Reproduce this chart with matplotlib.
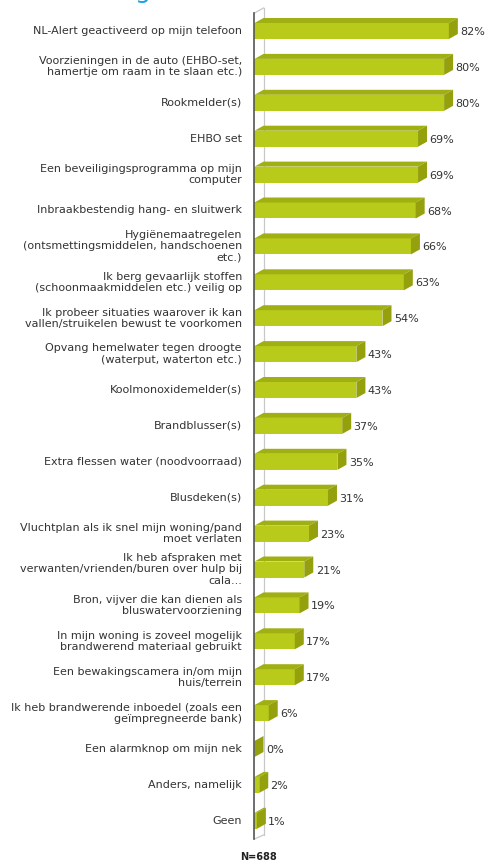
import matplotlib
matplotlib.use("Agg")
import matplotlib.pyplot as plt
from matplotlib.patches import Polygon

categories = [
    "NL-Alert geactiveerd op mijn telefoon",
    "Voorzieningen in de auto (EHBO-set,\nhamertje om raam in te slaan etc.)",
    "Rookmelder(s)",
    "EHBO set",
    "Een beveiligingsprogramma op mijn\ncomputer",
    "Inbraakbestendig hang- en sluitwerk",
    "Hygiënemaatregelen\n(ontsmettingsmiddelen, handschoenen\netc.)",
    "Ik berg gevaarlijk stoffen\n(schoonmaakmiddelen etc.) veilig op",
    "Ik probeer situaties waarover ik kan\nvallen/struikelen bewust te voorkomen",
    "Opvang hemelwater tegen droogte\n(waterput, waterton etc.)",
    "Koolmonoxidemelder(s)",
    "Brandblusser(s)",
    "Extra flessen water (noodvoorraad)",
    "Blusdeken(s)",
    "Vluchtplan als ik snel mijn woning/pand\nmoet verlaten",
    "Ik heb afspraken met\nverwanten/vrienden/buren over hulp bij\ncala...",
    "Bron, vijver die kan dienen als\nbluswatervoorziening",
    "In mijn woning is zoveel mogelijk\nbrandwerend materiaal gebruikt",
    "Een bewakingscamera in/om mijn\nhuis/terrein",
    "Ik heb brandwerende inboedel (zoals een\ngeïmpregneerde bank)",
    "Een alarmknop om mijn nek",
    "Anders, namelijk",
    "Geen",
]
values = [82, 80, 80, 69, 69, 68, 66, 63, 54, 43, 43, 37, 35, 31, 23, 21, 19, 17, 17, 6, 0, 2, 1]
value_labels = [f"{v}%" for v in values]
footnote = "N=688"

W, H = 487, 861
fig = plt.figure(figsize=(W / 100, H / 100), dpi=100)
fig.patch.set_facecolor("white")

# axes geometry in pixels
x0_px, x1_px = 254.5, 487
y_top_px, y_bot_px = 8, 840
px_per_unit = 2.37
row0_px, row_px = 31, 35.9

ax = fig.add_axes([x0_px / W, (H - y_bot_px) / H, (x1_px - x0_px) / W, (y_bot_px - y_top_px) / H])
ax.set_xlim(0, (x1_px - x0_px) / px_per_unit)
ax.set_ylim((y_bot_px - row0_px) / row_px, (y_top_px - row0_px) / row_px)
ax.axis("off")

front = "#B8CB1A"
top_c = "#A0B012"
side_c = "#95A10C"
bar_h = 16 / row_px
dx = 9 / px_per_unit
dy = 5 / row_px

for i, v in enumerate(values):
    ax.barh(i, v, height=bar_h, color=front, edgecolor="none", zorder=3)
    yt = i - bar_h / 2
    yb = i + bar_h / 2
    ax.add_patch(Polygon([(0, yt), (v, yt), (v + dx, yt - dy), (dx, yt - dy)],
                         closed=True, facecolor=top_c, edgecolor="none", zorder=3))
    ax.add_patch(Polygon([(v, yt), (v + dx, yt - dy), (v + dx, yb - dy), (v, yb)],
                         closed=True, facecolor=side_c, edgecolor="none", zorder=3))
    ax.text(v + dx + 1.0, i + 0.03, value_labels[i], ha="left", va="center",
            fontsize=8, color="#333333", family="DejaVu Sans", zorder=4)
    ax.text(-12.5 / px_per_unit, i, categories[i], ha="right", va="center",
            fontsize=8, color="#333333", family="DejaVu Sans", linespacing=1.15,
            multialignment="right", clip_on=False)

# side wall
def py(p):
    return (p - row0_px) / row_px

ax.plot([0, 0], [py(13), py(839)], color="#555555", lw=1.2, clip_on=False, zorder=5)
ax.plot([dx, dx], [py(8), py(835)], color="#C8C8C8", lw=0.9, clip_on=False, zorder=1)
ax.plot([0, dx], [py(13), py(8)], color="#C8C8C8", lw=0.9, clip_on=False, zorder=1)
ax.plot([0, dx], [py(839), py(835)], color="#C8C8C8", lw=0.9, clip_on=False, zorder=1)

fig.text(240 / W, 1 - 857 / H, footnote, ha="left", va="center", fontsize=7,
         fontweight="bold", color="#222222")
# cut-off title fragment at top
fig.text(143 / W, 1 + 2 / H, "g", ha="center", va="baseline", fontsize=18,
         color="#1BA1E2")

fig.savefig("out.png", dpi=100, facecolor="white")
